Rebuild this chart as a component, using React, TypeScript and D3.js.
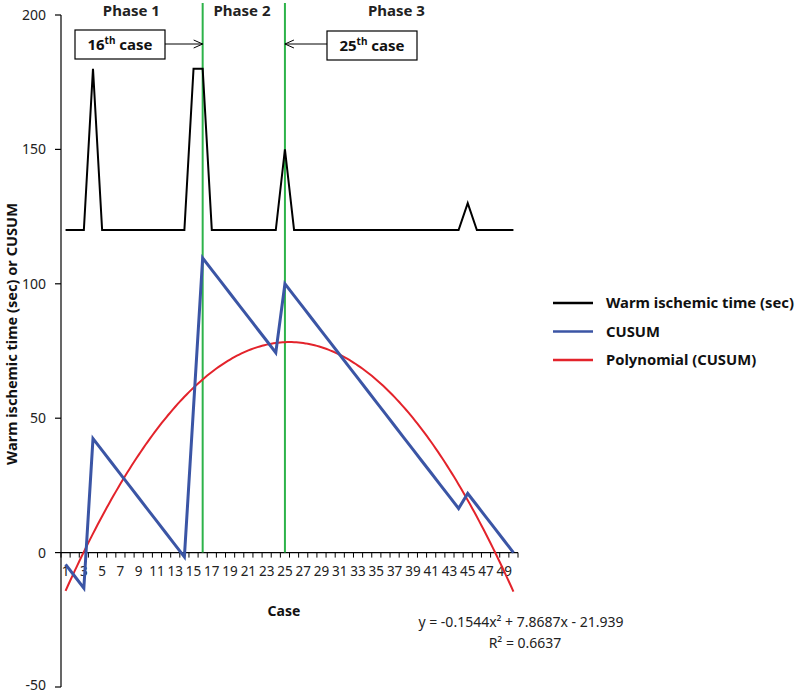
import React from "react";
import * as d3 from "d3";

const cases: number[] = Array.from({ length: 50 }, (_, i) => i + 1);
const warmTime: number[] = [
  120, 120, 120, 180, 120, 120, 120, 120, 120, 120,
  120, 120, 120, 120, 180, 180, 120, 120, 120, 120,
  120, 120, 120, 120, 150, 120, 120, 120, 120, 120,
  120, 120, 120, 120, 120, 120, 120, 120, 120, 120,
  120, 120, 120, 120, 130, 120, 120, 120, 120, 120,
];
const cusum: number[] = [
  -4.4, -8.8, -13.2, 42.4, 38.0, 33.6, 29.2, 24.8, 20.4, 16.0,
  11.6, 7.2, 2.8, -1.6, 54.0, 109.6, 105.2, 100.8, 96.4, 92.0,
  87.6, 83.2, 78.8, 74.4, 100.0, 95.6, 91.2, 86.8, 82.4, 78.0,
  73.6, 69.2, 64.8, 60.4, 56.0, 51.6, 47.2, 42.8, 38.4, 34.0,
  29.6, 25.2, 20.8, 16.4, 22.0, 17.6, 13.2, 8.8, 4.4, 0.0,
];
// Trendline coefficients shown on chart: y = a x^2 + b x + c
const polyCoef: number[] = [-0.1544, 7.8687, -21.939];
const yTicks: number[] = [-50, 0, 50, 100, 150, 200];
const phaseLabels: string[] = ["Phase 1", "Phase 2", "Phase 3"];
const phaseCenters: number[] = [8.2, 20.3, 37.2];
const phaseCases: number[] = [16, 25];
const legendItems: { label: string; color: string }[] = [
  { label: "Warm ischemic time (sec)", color: "#000000" },
  { label: "CUSUM", color: "#3b55a5" },
  { label: "Polynomial (CUSUM)", color: "#e3232b" },
];

const FONT = "'Noto Sans', 'Open Sans', sans-serif";

export default function App() {
  const W = 800, H = 693;
  const x = d3.scaleLinear().domain([0.5, 50.5]).range([61, 518]);
  const y = d3.scaleLinear().domain([-50, 200]).range([687, 15]);
  const line = d3.line<[number, number]>().x((d) => x(d[0])).y((d) => y(d[1]));

  const warmPts: [number, number][] = cases.map((c, i) => [c, warmTime[i]]);
  const cusumPts: [number, number][] = cases.map((c, i) => [c, cusum[i]]);
  const polyPts: [number, number][] = d3.range(1, 50.001, 0.25).map((t) => [
    t,
    polyCoef[0] * t * t + polyCoef[1] * t + polyCoef[2],
  ]);

  const boundaries = d3.range(0.5, 51, 1);
  const xLabels = cases.filter((c) => c % 2 === 1);
  const y0 = y(0);
  const greenX = phaseCases.map((c) => x(c));

  return (
    <svg
      width={W}
      height={H}
      style={{ position: "absolute", left: 0, top: 0, background: "#fff" }}
      fontFamily={FONT}
    >
      {/* y axis */}
      <line x1={61} x2={61} y1={y(200)} y2={y(-50)} stroke="#000" strokeWidth={1.2} />
      {yTicks.map((t) => (
        <g key={t}>
          <line x1={55} x2={61} y1={y(t)} y2={y(t)} stroke="#000" strokeWidth={1.2} />
          <text x={46} y={y(t) + (t === -50 ? -2 : 0)} dy="0.35em" textAnchor="end" fontSize={14} fill="#222">
            {t}
          </text>
        </g>
      ))}
      {/* x axis */}
      <line x1={x(0.5)} x2={x(50.5)} y1={y0} y2={y0} stroke="#000" strokeWidth={1.2} />
      {boundaries.map((b) => (
        <line key={b} x1={x(b)} x2={x(b)} y1={y0} y2={y0 + 5} stroke="#000" strokeWidth={1} />
      ))}
      {xLabels.map((c) => (
        <text key={c} x={x(c)} y={576} textAnchor="middle" fontSize={13.5} fill="#222">
          {c}
        </text>
      ))}

      {/* green phase lines */}
      {greenX.map((gx, i) => (
        <line key={i} x1={gx} x2={gx} y1={3} y2={y0} stroke="#2db34a" strokeWidth={2} />
      ))}

      {/* data lines */}
      <path d={line(warmPts) || ""} fill="none" stroke="#000" strokeWidth={2} strokeLinejoin="miter" />
      <path d={line(polyPts) || ""} fill="none" stroke="#e3232b" strokeWidth={2} />
      <path d={line(cusumPts) || ""} fill="none" stroke="#3b55a5" strokeWidth={3} />

      {/* phase labels */}
      {phaseLabels.map((p, i) => (
        <text key={p} x={x(phaseCenters[i])} y={16} textAnchor="middle" fontSize={15} fontWeight="bold" fill="#222">
          {p}
        </text>
      ))}

      {/* boxes with arrows */}
      <rect x={75} y={30} width={90} height={29} fill="#fff" stroke="#000" strokeWidth={1.2} />
      <text x={120} y={50} textAnchor="middle" fontSize={15} fontWeight="bold" fill="#111">
        16<tspan fontSize={10} dy={-6}>th</tspan>
        <tspan dy={6}> case</tspan>
      </text>
      <line x1={165} x2={greenX[0]} y1={44} y2={44} stroke="#000" strokeWidth={1} />
      <path d={`M${greenX[0] - 9},40 L${greenX[0]},44 L${greenX[0] - 9},48`} fill="none" stroke="#000" strokeWidth={1} />

      <rect x={327} y={31} width={90} height={29} fill="#fff" stroke="#000" strokeWidth={1.2} />
      <text x={372} y={51} textAnchor="middle" fontSize={15} fontWeight="bold" fill="#111">
        25<tspan fontSize={10} dy={-6}>th</tspan>
        <tspan dy={6}> case</tspan>
      </text>
      <line x1={327} x2={greenX[1]} y1={44} y2={44} stroke="#000" strokeWidth={1} />
      <path d={`M${greenX[1] + 9},40 L${greenX[1]},44 L${greenX[1] + 9},48`} fill="none" stroke="#000" strokeWidth={1} />

      {/* legend */}
      {legendItems.map((it, i) => (
        <g key={it.label} transform={`translate(553, ${303 + i * 28.5})`}>
          <line x1={0} x2={40} y1={0} y2={0} stroke={it.color} strokeWidth={2.5} />
          <text x={53} y={0} dy="0.35em" fontSize={14.8} fontWeight="bold" fill="#111">
            {it.label}
          </text>
        </g>
      ))}

      {/* axis titles */}
      <text x={284} y={616} textAnchor="middle" fontSize={14} fontWeight="bold" fill="#111">
        Case
      </text>
      <text
        transform="translate(17, 334) rotate(-90)"
        textAnchor="middle"
        fontSize={14.6}
        fontWeight="bold"
        fill="#111"
      >
        Warm ischemic time (sec) or CUSUM
      </text>

      {/* equation */}
      <text x={521} y={627} textAnchor="middle" fontSize={14} fill="#222">
        y = -0.1544x² + 7.8687x - 21.939
      </text>
      <text x={525} y={648} textAnchor="middle" fontSize={14} fill="#222">
        R² = 0.6637
      </text>
    </svg>
  );
}
